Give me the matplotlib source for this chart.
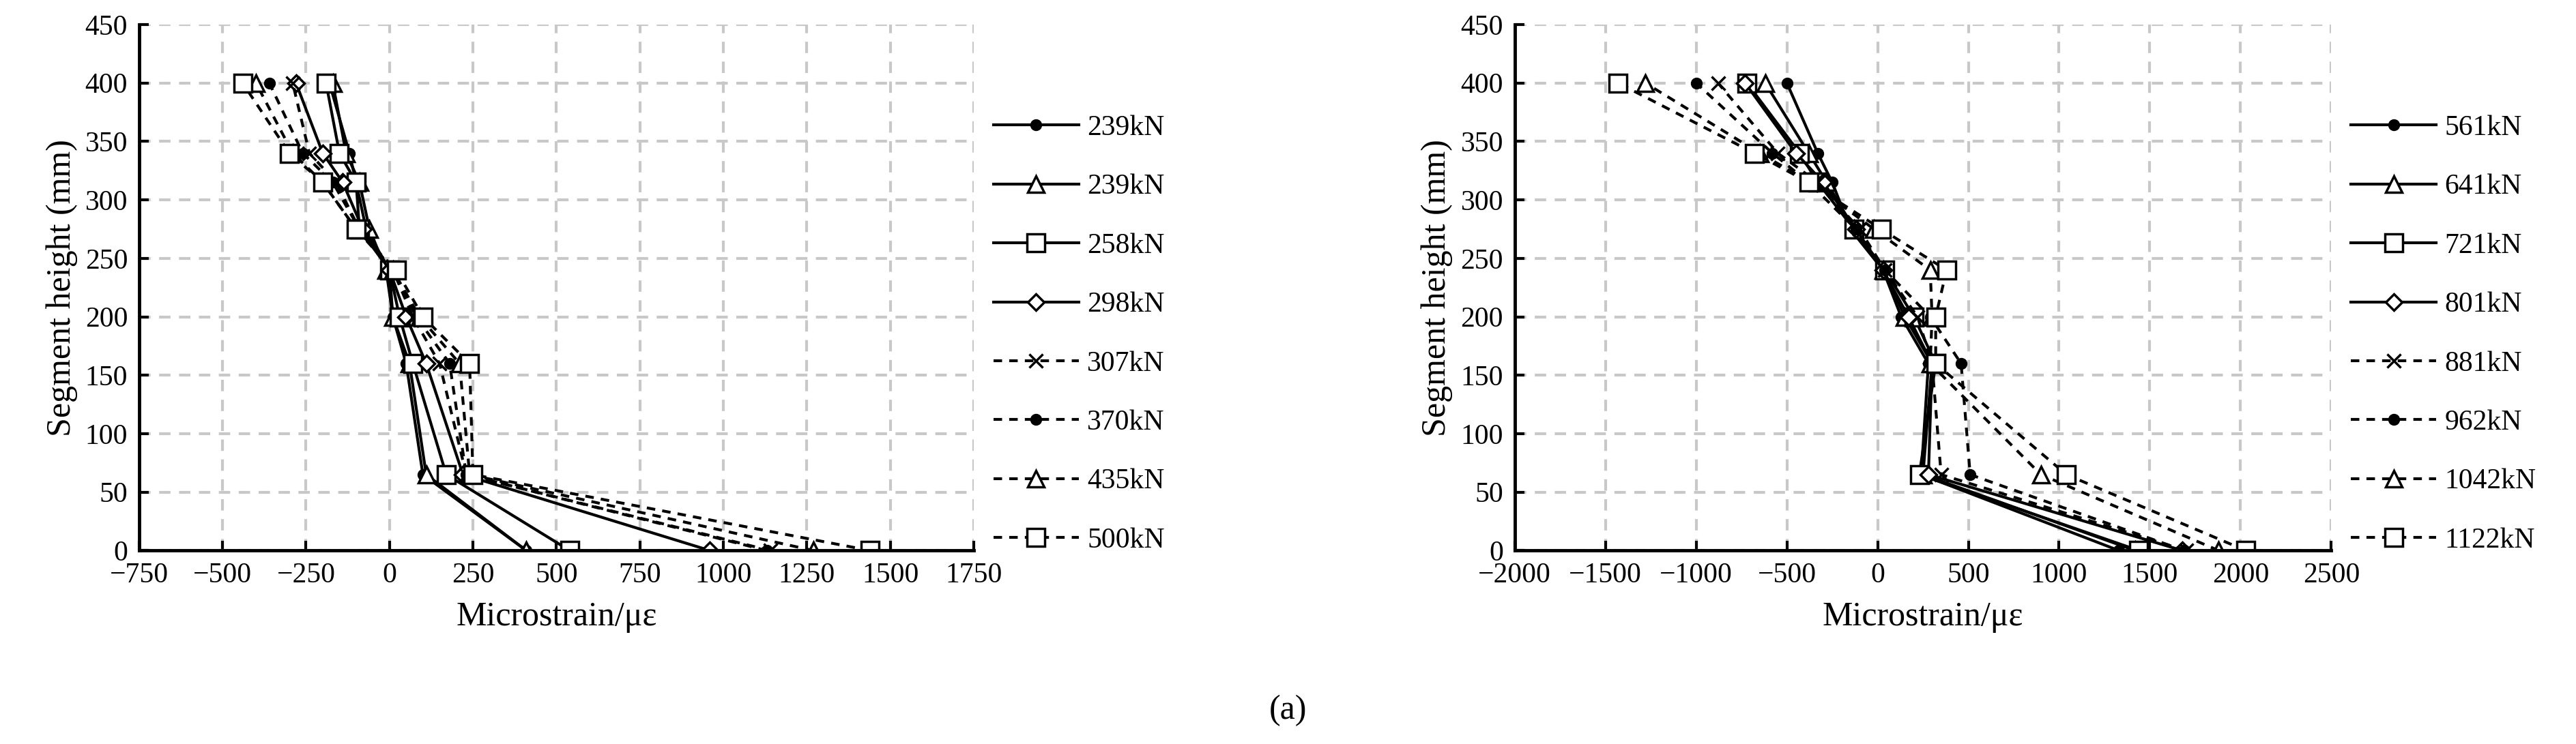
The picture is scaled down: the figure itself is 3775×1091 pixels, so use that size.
import matplotlib
matplotlib.use("Agg")
import matplotlib.pyplot as plt

plt.rcParams['font.family'] = ['Liberation Serif', 'DejaVu Serif']
plt.rcParams['axes.unicode_minus'] = True

heights = [0, 65, 160, 200, 240, 275, 315, 340, 400]

left_labels = ["239kN", "239kN", "258kN", "298kN", "307kN", "370kN", "435kN", "500kN"]
left_s1 = [410, 100, 50, 10, 0, -70, -100, -120, -180]
left_s2 = [410, 110, 60, 10, -10, -60, -90, -130, -170]
left_s3 = [540, 170, 70, 30, 0, -90, -100, -150, -190]
left_s4 = [960, 220, 110, 50, 0, -80, -140, -200, -280]
left_s5 = [1140, 230, 150, 70, 10, -90, -160, -240, -290]
left_s6 = [1130, 230, 180, 80, 10, -90, -170, -260, -360]
left_s7 = [1270, 240, 210, 90, 10, -100, -200, -290, -400]
left_s8 = [1440, 250, 240, 100, 20, -100, -200, -300, -440]

right_labels = ["561kN", "641kN", "721kN", "801kN", "881kN", "962kN", "1042kN", "1122kN"]
right_s1 = [1330, 240, 280, 130, 30, -150, -250, -330, -500]
right_s2 = [1420, 250, 300, 150, 30, -130, -280, -380, -620]
right_s3 = [1440, 230, 320, 200, 40, -130, -330, -430, -720]
right_s4 = [1680, 280, 300, 170, 30, -120, -300, -450, -730]
right_s5 = [1700, 350, 300, 220, 40, -100, -330, -550, -880]
right_s6 = [1690, 510, 460, 290, 40, -120, -380, -580, -1000]
right_s7 = [1880, 900, 290, 300, 290, -20, -370, -650, -1280]
right_s8 = [2030, 1040, 320, 320, 380, 20, -380, -680, -1430]

left_ticks = [-750, -500, -250, 0, 250, 500, 750, 1000, 1250, 1500, 1750]
right_ticks = [-2000, -1500, -1000, -500, 0, 500, 1000, 1500, 2000, 2500]
y_ticks = [0, 50, 100, 150, 200, 250, 300, 350, 400, 450]

styles = [('o', '-', 'k', 10), ('^', '-', 'w', 17), ('s', '-', 'w', 19), ('D', '-', 'w', 12),
          ('x', '--', 'k', 15), ('o', '--', 'k', 10), ('^', '--', 'w', 17), ('s', '--', 'w', 19)]

fig = plt.figure(figsize=(37.75, 10.91), dpi=100)
ax1 = fig.add_axes([0.054, 0.26, 0.324, 0.707])
ax2 = fig.add_axes([0.588, 0.26, 0.317, 0.707])

def draw(ax, series, labels, ticks):
    for s, lab, (m, ls, fc, ms) in zip(series, labels, styles):
        kw = dict(dashes=(3, 2.5)) if ls == '--' else {}
        ax.plot(s, heights, linestyle=ls, color='k', lw=3, marker=m, markersize=ms,
                markerfacecolor=fc, markeredgecolor='k', markeredgewidth=2.5,
                label=lab, **kw)
    ax.set_xlim(ticks[0], ticks[-1])
    ax.set_ylim(0, 450)
    ax.set_xticks(ticks)
    ax.set_yticks(y_ticks)
    ax.grid(True, color='#c8c8c8', linestyle=(0, (4, 3)), lw=3)
    for sp in ['top', 'right']:
        ax.spines[sp].set_visible(False)
    ax.spines['left'].set_linewidth(3.5)
    ax.spines['bottom'].set_linewidth(3.5)
    ax.tick_params(labelsize=30, width=3, length=10, direction='in', pad=12)
    ax.set_xlabel('Microstrain/με', fontsize=36, labelpad=14)
    ax.set_ylabel('Segment height (mm)', fontsize=36, labelpad=8)
    ax.legend(loc='upper left', bbox_to_anchor=(1.01, 0.85), frameon=False, fontsize=30,
              labelspacing=1.15, handlelength=3.0, handletextpad=0.3, borderaxespad=0)

draw(ax1, [left_s1, left_s2, left_s3, left_s4, left_s5, left_s6, left_s7, left_s8],
     left_labels, left_ticks)
draw(ax2, [right_s1, right_s2, right_s3, right_s4, right_s5, right_s6, right_s7, right_s8],
     right_labels, right_ticks)

fig.text(0.5, 0.045, '(a)', fontsize=36, ha='center', va='center')
fig.savefig('out.png', dpi=100)
